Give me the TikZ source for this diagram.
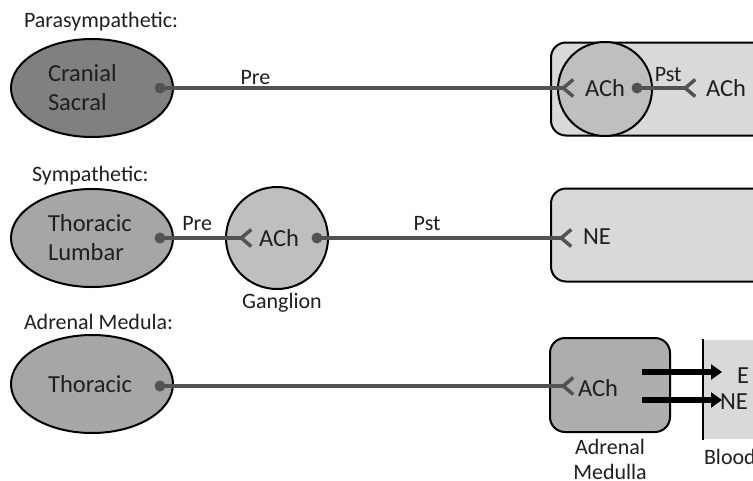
\documentclass[tikz,border=0pt]{standalone}
\usepackage{fontspec}
\setmainfont{Carlito}
\usetikzlibrary{arrows.meta, positioning, shapes.geometric}
\usepackage{xcolor}
\definecolor{axon}{gray}{0.32}

\begin{document}
\begin{tikzpicture}[x=1pt, y=-1pt, line width=2pt, node distance=4pt]
    \tikzstyle{caption}=[font=\fontsize{22}{25}\selectfont, text=black!88, inner sep=0pt]
    \tikzstyle{chem}=[font=\fontsize{24.5}{29}\selectfont, text=black!88, inner sep=0pt]
    \tikzstyle{root}=[ellipse, draw=black, minimum width=162pt, minimum height=98pt, inner sep=0pt]
    \tikzstyle{ganglion}=[circle, draw=black, fill=black!25, inner sep=0pt]
    \tikzstyle{organ}=[rectangle, rounded corners=15pt, draw=black, fill=black!15, minimum height=93pt, inner sep=0pt]
    \tikzstyle{knob}=[circle, fill=axon, inner sep=0pt, minimum size=11pt]
    \tikzstyle{fibre}=[draw=axon, line width=3.5pt, -{Straight Barb[reversed, length=10pt, width=17pt]}]
    \tikzstyle{hormone}=[draw=black, line width=6pt, -{Triangle[length=11pt, width=15pt]}]

    \useasboundingbox (0,0) rectangle (753,480);
    \clip (0,0) rectangle (753,480);

    % parasympathetic row
    \node[caption, anchor=west] (T-para) at (23,22) {Parasympathetic:};
    \node[root, fill=black!50] (CS) at (92,88) {};
    \node[chem, anchor=west, align=left] at (47,88) {Cranial\\Sacral};
    \node[organ, anchor=west, minimum width=260pt] (PT) at (550,89) {};
    \node[ganglion, minimum size=94pt] (PG) at (605,89) {};
    \node[chem] at (605,88) {ACh};
    \node[chem] at (726,88) {ACh};
    \node[knob] (CS-k) at (160,88) {};
    \node[knob] (PG-k) at (637,88) {};
    \coordinate (PG-r) at (575,88);
    \coordinate (PT-r) at (697,88);
    \draw[fibre] (CS-k.center) -- node[caption, pos=0.23, above=2pt] {Pre} (PG-r);
    \draw[fibre] (PG-k.center) -- node[caption, pos=0.52, above=5pt] {Pst} (PT-r);

    % sympathetic row
    \node[caption, anchor=west] (T-sym) at (31,176) {Sympathetic:};
    \node[root, fill=black!35] (TL) at (92,238) {};
    \node[chem, anchor=west, align=left] at (47,238) {Thoracic\\Lumbar};
    \node[ganglion, minimum size=102pt] (SG) at (277,238) {};
    \node[chem] at (279,238) {ACh};
    \node[caption, below=2pt of SG, xshift=5pt] {Ganglion};
    \node[organ, anchor=west, minimum width=260pt] (ST) at (550,235) {};
    \node[chem] at (597,237) {NE};
    \node[knob] (TL-k) at (160,238) {};
    \node[knob] (SG-k) at (317,238) {};
    \coordinate (SG-r) at (253,238);
    \coordinate (ST-r) at (573,238);
    \draw[fibre] (TL-k.center) -- node[caption, pos=0.4, above=6pt] {Pre} (SG-r);
    \draw[fibre] (SG-k.center) -- node[caption, pos=0.43, above=6pt] {Pst} (ST-r);

    % adrenal medulla row
    \node[caption, anchor=west] (T-adr) at (23,322) {Adrenal Medula:};
    \node[root, fill=black!35] (Th) at (92,384) {};
    \node[chem] at (90,384) {Thoracic};
    \node[organ, fill=black!32, minimum width=120pt, minimum height=94pt] (AM) at (610,385) {};
    \node[chem] at (598,388) {ACh};
    \node[caption, below=5pt of AM, align=center] {Adrenal\\Medulla};
    \node[knob] (Th-k) at (160,386) {};
    \coordinate (AM-r) at (575,386);
    \draw[fibre] (Th-k.center) -- (AM-r);

    % blood
    \node[rectangle, fill=black!15, anchor=north west, minimum width=70pt, minimum height=99pt, inner sep=0pt] (Blood) at (703,339) {};
    \draw[line width=2pt] (Blood.north west) -- (Blood.south west);
    \node[caption, anchor=north west] at ([yshift=-8pt]Blood.south west) {Blood};
    \node[chem] (E) at (743,376) {E};
    \node[chem] (NE) at (734,402) {NE};
    \coordinate (AM-e) at (642,372);
    \coordinate (AM-n) at (642,400);
    \coordinate (E-tip) at (722,372);
    \coordinate (NE-tip) at (722,400);
    \draw[hormone] (AM-e) -- (E-tip);
    \draw[hormone] (AM-n) -- (NE-tip);
\end{tikzpicture}
\end{document}
